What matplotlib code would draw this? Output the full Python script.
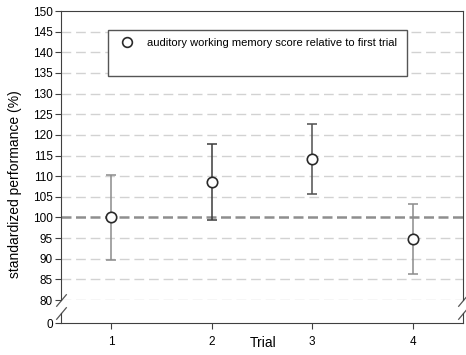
import matplotlib.pyplot as plt
from matplotlib.patches import Rectangle

plt.rcParams['font.family'] = ['Liberation Sans', 'DejaVu Sans']

# values
trials = [1, 2, 3, 4]
scores = [100.0, 108.6, 114.2, 94.8]
err_low = [10.2, 9.1, 8.5, 8.5]
err_high = [10.2, 9.2, 8.5, 8.4]
bar_colors = ['#8c8c8c', '#3c3c3c', '#505050', '#8c8c8c']
y_ticks = list(range(80, 151, 5))
legend_label = "auditory working memory score relative to first trial"

spine_col = '#404040'
fig = plt.figure(figsize=(4.66, 3.55), dpi=100)
ax = fig.add_axes([0.1309, 0.1549, 0.8627, 0.8141])
ax_low = fig.add_axes([0.1309, 0.0901, 0.8627, 0.0282])

# grid lines every 5
for y in y_ticks[:-1]:
    if y == 100:
        continue
    ax.axhline(y, color='#d2d2d2', lw=1, dashes=(7, 3.5), zorder=0)
ax.axhline(100, color='#8e8e8e', lw=1.8, dashes=(4, 1.8), zorder=1)

for x, s, lo, hi, c in zip(trials, scores, err_low, err_high, bar_colors):
    ax.errorbar(x, s, yerr=[[lo], [hi]], fmt='none', ecolor=c, elinewidth=1.1,
                capsize=3.5, capthick=1.1, zorder=2)
ax.plot(trials, scores, 'o', ms=7.5, mfc='white', mec='#2a2a2a', mew=1.2, zorder=3)

ax.set_xlim(0.5, 4.5)
ax.set_ylim(80, 150)
ax.set_yticks(y_ticks)
ax.set_xticks([])
ax.spines['bottom'].set_visible(False)
for sp in ['top', 'left', 'right']:
    ax.spines[sp].set_color(spine_col)
ax.tick_params(axis='y', labelsize=8.5, length=4, color=spine_col, pad=2)

ax_low.set_xlim(0.5, 4.5)
ax_low.set_ylim(0, 1)
ax_low.set_yticks([0])
ax_low.set_xticks(trials)
ax_low.spines['top'].set_visible(False)
for sp in ['bottom', 'left', 'right']:
    ax_low.spines[sp].set_color(spine_col)
ax_low.tick_params(axis='both', labelsize=8.5, length=4, color=spine_col, pad=2)
ax_low.tick_params(axis='x', pad=5)
ax_low.patch.set_alpha(0)

# break marks
kw = dict(marker=[(-1, -1.2), (1, 1.2)], markersize=9, linestyle='none',
          color='#555555', mec='#555555', mew=0.9, clip_on=False)
ax.plot([0, 1], [0, 0], transform=ax.transAxes, **kw)
ax_low.plot([0, 1], [1, 1], transform=ax_low.transAxes, **kw)

# legend box (white fill hides the grid)
ax.add_patch(Rectangle((0.1166, 0.775), 0.7444, 0.159, transform=ax.transAxes,
                       facecolor='white', ec='#555555', lw=1, zorder=4))
ax.plot([], [], 'o', ms=7, mfc='white', mec='#2a2a2a', mew=1.2, label=legend_label)
leg = ax.legend(loc='upper left', bbox_to_anchor=(0.135, 0.93), frameon=False,
                fontsize=8, handlelength=1.0, handletextpad=1.3, borderaxespad=0.2)
leg.set_zorder(5)

fig.text(0.032, 0.48, 'standardized performance (%)', rotation=90,
         ha='center', va='center', fontsize=10)
fig.text(0.564, 0.034, 'Trial', ha='center', va='center', fontsize=10)

fig.savefig('out.png', dpi=100)
